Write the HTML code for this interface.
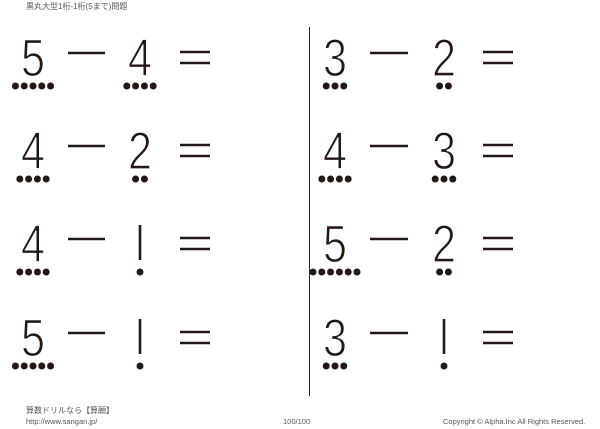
<!DOCTYPE html>
<html><head><meta charset="utf-8"><style>
html,body{margin:0;padding:0;background:#fff;width:600px;height:429px;overflow:hidden}
svg{display:block}
</style></head><body>
<svg id="s" width="600" height="429" xmlns="http://www.w3.org/2000/svg">
<text x="26" y="9" font-family="'Liberation Sans','Noto Sans CJK JP',sans-serif" font-size="8" fill="#555">黒丸大型1桁-1桁(5まで)問題</text>
<line x1="309.5" y1="27" x2="309.5" y2="396" stroke="#222" stroke-width="1"/>
<text x="26" y="413" font-family="'Liberation Sans','Noto Sans CJK JP',sans-serif" font-size="8" fill="#555">算数ドリルなら【算願】</text>
<text x="26" y="424" font-family="'Liberation Sans',sans-serif" font-size="7.5" fill="#555">http://www.sangan.jp/</text>
<text x="283" y="424" font-family="'Liberation Sans',sans-serif" font-size="7.5" fill="#555">100/100</text>
<text x="443" y="424" font-family="'Liberation Sans',sans-serif" font-size="7.5" fill="#555">Copyright © Alpha.Inc All Rights Reserved.</text>
<g id="g"></g>
</svg>
<script>
var g=document.getElementById('g'),h='';
var rows=[38,131,224,318];
var data=[[[5,5,4,4],[3,3,2,2]],[[4,4,2,2],[4,4,3,3]],[[4,4,1,1],[5,6,2,2]],[[5,5,1,1],[3,3,1,1]]];
var cols=[{d1:33,m1:68,m2:105,d2:140,e1:180,e2:210},{d1:335,m1:370,m2:408,d2:444,e1:483,e2:513}];
function digit(n,cx,T){
 if(n==1){h+='<line x1="'+cx+'" y1="'+(T+1)+'" x2="'+cx+'" y2="'+(T+36)+'" stroke="#231815" stroke-width="2.6"/>';return;}
 h+='<text x="'+(cx-12)+'" y="'+(T+38)+'" textLength="24" lengthAdjust="spacingAndGlyphs" font-family="Liberation Sans,sans-serif" font-size="53" fill="#231815" stroke="#fff" stroke-width="1.3">'+n+'</text>';
}
function dots(k,cx,T){
 var sp=8.8,x0=cx-sp*(k-1)/2;
 for(var i=0;i<k;i++)h+='<circle cx="'+(x0+i*sp).toFixed(1)+'" cy="'+(T+48)+'" r="3.5" fill="#231815"/>';
}
rows.forEach(function(T,r){
 cols.forEach(function(c,ci){
  var d=data[r][ci];
  digit(d[0],c.d1,T);dots(d[1],c.d1,T);
  h+='<line x1="'+c.m1+'" y1="'+(T+15)+'" x2="'+c.m2+'" y2="'+(T+15)+'" stroke="#231815" stroke-width="2.4"/>';
  digit(d[2],c.d2,T);dots(d[3],c.d2,T);
  h+='<line x1="'+c.e1+'" y1="'+(T+14)+'" x2="'+c.e2+'" y2="'+(T+14)+'" stroke="#231815" stroke-width="2.4"/>';
  h+='<line x1="'+c.e1+'" y1="'+(T+25)+'" x2="'+c.e2+'" y2="'+(T+25)+'" stroke="#231815" stroke-width="2.4"/>';
 });
});
g.innerHTML=h;
</script>
</body></html>
